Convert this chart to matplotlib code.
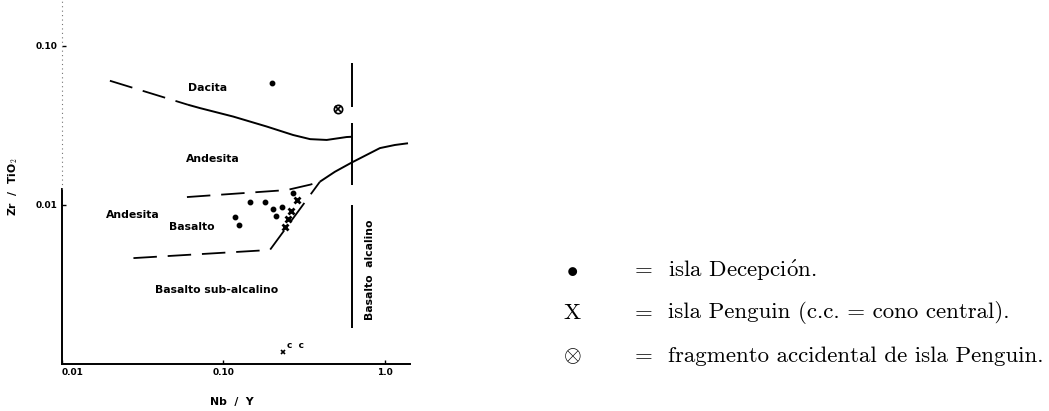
import numpy as np
import matplotlib
matplotlib.use("Agg")
import matplotlib.pyplot as plt

plt.rcParams['mathtext.fontset'] = 'cm'

# ── Datos leídos del diagrama (Nb/Y frente a Zr/TiO2) ───────────────────────
# límite Dacita / Andesita
dacita_guion_x = [0.0198, 0.0603]
dacita_guion_y = [0.0603, 0.0426]
dacita_linea_x = [0.0603, 0.0715, 0.115, 0.185, 0.270, 0.344, 0.436, 0.579, 0.622]
dacita_linea_y = [0.0426, 0.0406, 0.0359, 0.0311, 0.0275, 0.0259, 0.0256, 0.0267, 0.0268]

# límite sub-alcalino / alcalino (curva continua)
alcalino_x = [0.396, 0.490, 0.622, 0.931, 1.153, 1.39]
alcalino_y = [0.0140, 0.01615, 0.01845, 0.02275, 0.0238, 0.0244]

# campo andesita basáltica (discontinuo)
andbas_sup_x = [0.0594, 0.247, 0.344, 0.396]
andbas_sup_y = [0.0112, 0.0124, 0.0134, 0.0140]
andbas_inf_x = [0.0277, 0.194, 0.396]
andbas_inf_y = [0.00463, 0.00521, 0.0140]

# línea vertical (tramos)
vertical_x = 0.622
vertical_tramos = [(0.0782, 0.0413), (0.0328, 0.01337), (0.01, 0.00168)]

# muestras
decepcion_x = [0.200, 0.146, 0.182, 0.203, 0.229, 0.211, 0.118, 0.125, 0.270]
decepcion_y = [0.0582, 0.0104, 0.0104, 0.00944, 0.00976, 0.00853, 0.00837, 0.00748, 0.0119]
penguin_x = [0.285, 0.262, 0.251, 0.240]
penguin_y = [0.01075, 0.00917, 0.00817, 0.00727]
cono_x, cono_y = 0.233, 0.00119
fragmento_x, fragmento_y = 0.509, 0.040

etiquetas = [
    ("Dacita", 0.0802, 0.0544, 0),
    ("Andesita", 0.0861, 0.01945, 0),
    ("Andesita", 0.0276, 0.00865, 0),
    ("Basalto", 0.0638, 0.00727, 0),
    ("Basalto sub-alcalino", 0.0912, 0.00292, 0),
    ("Basalto  alcalino", 0.807, 0.0039, 90),
]

leyenda = [
    (r"$\bullet$", r"isla Decepci$\acute{\mathrm{o}}$n."),
    ("X", "isla Penguin (c.c. = cono central)."),
    (r"$\otimes$", "fragmento accidental de isla Penguin."),
]
# ───────────────────────────────────────────────────────────────────────────

W, H = 1049, 411
fig = plt.figure(figsize=(W / 100, H / 100), dpi=100)
ax = fig.add_axes([62 / W, 47 / H, 348 / W, 364 / H])
ax.set_xscale('log')
ax.set_yscale('log')
ax.set_xlim(0.01, 1.43)
ax.set_ylim(0.001, 0.194)

lab = dict(family='DejaVu Sans', weight='bold', fontsize=7.8, color='black')
guion = dict(color='black', lw=1.3, dashes=(13, 6))
solido = dict(color='black', lw=1.4, solid_capstyle='butt')

ax.plot(dacita_guion_x, dacita_guion_y, **guion)
ax.plot(dacita_linea_x, dacita_linea_y, **solido)
ax.plot(alcalino_x, alcalino_y, **solido)
ax.plot(andbas_sup_x, andbas_sup_y, **guion)
ax.plot(andbas_inf_x, andbas_inf_y, **guion)
for y0, y1 in vertical_tramos:
    ax.plot([vertical_x, vertical_x], [y0, y1], **solido)

ax.plot(decepcion_x, decepcion_y, 'o', color='black', ms=3.2)
ax.plot(penguin_x, penguin_y, 'x', color='black', ms=5, mew=2)
ax.plot(cono_x, cono_y, 'x', color='black', ms=3, mew=1.2)
ax.annotate("c  c", (cono_x, cono_y), xytext=(3, 3), textcoords='offset points',
            fontsize=6.5, family='DejaVu Sans', weight='bold')
ax.plot(fragmento_x, fragmento_y, 'o', mfc='white', mec='black', ms=6, mew=1.2)
ax.plot(fragmento_x, fragmento_y, 'x', color='black', ms=4, mew=1.2)

for texto, x, y, rot in etiquetas:
    ax.text(x, y, texto, ha='center', va='center', rotation=rot, **lab)

# ejes
for s in ['top', 'right', 'left']:
    ax.spines[s].set_visible(False)
ax.spines['bottom'].set_linewidth(1.4)
ax.plot([0.01, 0.01], [0.001, 0.0125], color='black', lw=1.4, clip_on=False)
ax.plot([0.01, 0.01], [0.0125, 0.194], color='0.45', lw=0.8, ls=(0, (1, 3)), clip_on=False)

ax.set_xticks([0.01, 0.1, 1.0])
ax.set_xticklabels(["0.01", "0.10", "1.0"])
ax.set_yticks([0.01, 0.1])
ax.set_yticklabels(["0.01", "0.10"])
ax.minorticks_off()
ax.tick_params(direction='in', length=3, width=1, pad=3)
for t in ax.get_xticklabels() + ax.get_yticklabels():
    t.set_fontfamily('DejaVu Sans')
    t.set_fontweight('bold')
    t.set_fontsize(6.5)
ax.get_xticklabels()[0].set_ha('left')

fig.text(232 / W, 1 - 402 / H, "Nb  /  Y", ha='center', va='center', **lab)
fig.text(13 / W, 1 - 187 / H, r"Zr  /  TiO$_\mathbf{2}$", ha='center', va='center',
         rotation=90, **lab)

# leyenda a la derecha
filas = [270, 313, 356]
for (simbolo, texto), py in zip(leyenda, filas):
    yf = 1 - py / H
    fig.text(572 / W, yf, simbolo, ha='center', va='center', fontsize=16.5, family='cmr10')
    fig.text(644 / W, yf, "=", ha='center', va='center', fontsize=16.5, family='cmr10')
    fig.text(668 / W, yf, texto, ha='left', va='center', fontsize=16.5, family='cmr10')

fig.savefig("out.png", dpi=100)
